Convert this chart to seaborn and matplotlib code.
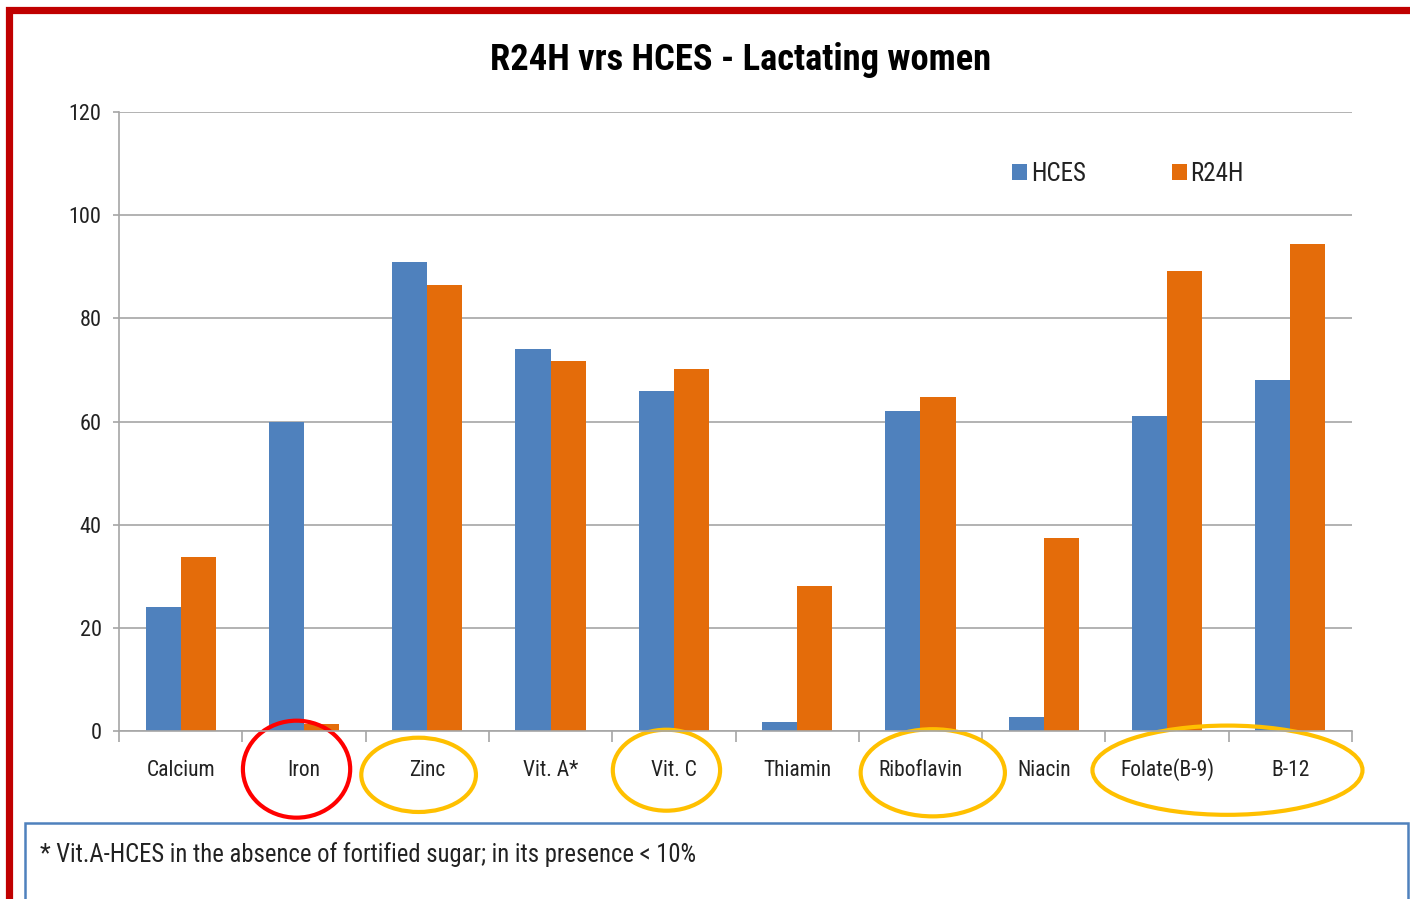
import matplotlib
matplotlib.use("Agg")
import matplotlib.pyplot as plt
from matplotlib.patches import Ellipse, Rectangle
from matplotlib.ticker import FixedLocator
import seaborn as sns
import pandas as pd

categories = ["Calcium", "Iron", "Zinc", "Vit. A*", "Vit. C", "Thiamin",
              "Riboflavin", "Niacin", "Folate(B-9)", "B-12"]
hces = [24, 60, 91, 74, 66, 1.7, 62, 2.8, 61, 68]
r24h = [33.7, 1.3, 86.4, 71.7, 70.1, 28.2, 64.7, 37.5, 89.1, 94.5]
series = ["HCES", "R24H"]
colors = ["#4F81BD", "#E46C0A"]
yticks = [0, 20, 40, 60, 80, 100, 120]

sns.set_theme(style="white")
plt.rcParams["font.family"] = ["Roboto Condensed", "Lato", "DejaVu Sans"]

df = pd.DataFrame({
    "Nutrient": categories * 2,
    "Value": hces + r24h,
    "Series": [series[0]] * len(categories) + [series[1]] * len(categories),
})

W, H = 1410, 899
fig = plt.figure(figsize=(W / 100, H / 100), dpi=100)
fig.patch.set_facecolor("white")
ax = fig.add_axes([119 / W, 1 - 731 / H, (1352 - 119) / W, (731 - 112) / H])

sns.barplot(data=df, x="Nutrient", y="Value", hue="Series", order=categories,
            hue_order=series, palette=colors, width=0.57, saturation=1,
            errorbar=None, ax=ax, linewidth=0)

ax.set_xlim(-0.5, len(categories) - 0.5)
ax.set_ylim(0, 120)
ax.set_yticks(yticks)
ax.set_yticklabels([str(t) for t in yticks], fontsize=16, color="#222222")
ax.yaxis.grid(True, color="#A6A6A6", linewidth=1.2)
ax.set_axisbelow(True)
for s in ["top", "right"]:
    ax.spines[s].set_visible(False)
for s in ["left", "bottom"]:
    ax.spines[s].set_color("#A6A6A6")
    ax.spines[s].set_linewidth(1.2)
ax.tick_params(axis="y", which="major", length=4.5, color="#A6A6A6", width=1.2,
               pad=8, left=True)
ax.tick_params(axis="x", which="major", length=0, pad=32.5, labelsize=15.5,
               labelcolor="#222222")
for lbl in ax.get_xticklabels():
    lbl.set_verticalalignment("baseline")
ax.xaxis.set_minor_locator(FixedLocator([i - 0.5 for i in range(len(categories) + 1)]))
ax.tick_params(axis="x", which="minor", length=8, color="#A6A6A6", width=1.2,
               bottom=True)
ax.set_xlabel("")
ax.set_ylabel("")

# legend
leg = ax.legend(loc="center left", bbox_to_anchor=(1012 / W, 1 - 174 / H),
                bbox_transform=fig.transFigure,
                ncol=2, frameon=False, fontsize=18, handlelength=0.6, handleheight=0.6,
                handletextpad=0.15, columnspacing=3.45, borderaxespad=0, borderpad=0)
for t in leg.get_texts():
    t.set_color("#222222")

# title
fig.text(741 / W, 1 - 60 / H, "R24H vrs HCES - Lactating women", ha="center",
         va="center", fontsize=26.3, fontweight="bold", color="black")

# ellipses highlighting nutrients
ell = [
    (0.94, -7.4, 0.87, 18.8, "#FF0000"),
    (1.93, -8.5, 0.93, 14.4, "#FFC000"),
    (3.94, -7.6, 0.87, 15.7, "#FFC000"),
    (6.10, -8.1, 1.17, 16.9, "#FFC000"),
    (8.49, -7.6, 2.19, 17.3, "#FFC000"),
]
for cx, cy, w, h, c in ell:
    ax.add_patch(Ellipse((cx, cy), w, h, fill=False, edgecolor=c, linewidth=3,
                         clip_on=False))

# footnote box
fig.patches.append(Rectangle((25 / W, -0.05), (1408 - 25) / W, (899 - 823) / H + 0.05,
                             transform=fig.transFigure, fill=False,
                             edgecolor="#4F81BD", linewidth=1.8))
fig.text(40 / W, 1 - 855 / H, "* Vit.A-HCES in the absence of fortified sugar; in its presence < 10%",
         ha="left", va="center", fontsize=17.7, color="#222222")

# outer red frame
fig.patches.append(Rectangle((9 / W, -0.1), 1.2, 1 - 10 / H + 0.1,
                             transform=fig.transFigure, fill=False,
                             edgecolor="#C00000", linewidth=5.2))

fig.savefig("out.png", dpi=100, facecolor="white")
